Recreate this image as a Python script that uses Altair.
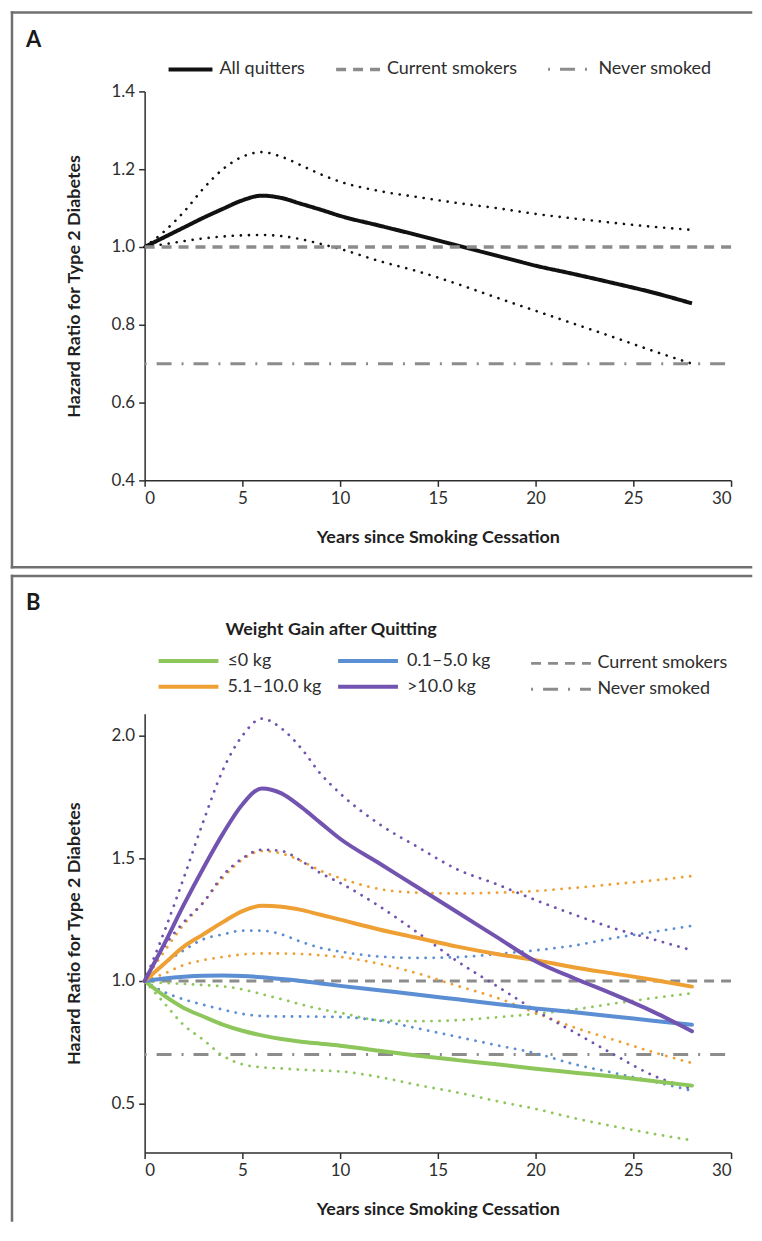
import altair as alt
import pandas as pd

FONT = "Lato"
INK = "#2e2e2e"
GRAY = "#8c8c8c"
FRAME = "#707070"

# ---------------- data ----------------
years = [0, 1, 2, 3, 4, 5, 6, 7, 8, 9, 10, 12, 14, 16, 18, 20, 22, 24, 26, 28]
ref_years = [0, 30]

# Panel A
a_all = [1.000, 1.025, 1.050, 1.075, 1.098, 1.120, 1.132, 1.126, 1.111, 1.096,
         1.080, 1.055, 1.030, 1.004, 0.978, 0.952, 0.930, 0.907, 0.883, 0.855]
a_upper = [1.000, 1.040, 1.090, 1.150, 1.200, 1.232, 1.244, 1.232, 1.210, 1.187,
           1.168, 1.144, 1.128, 1.113, 1.100, 1.085, 1.073, 1.062, 1.052, 1.044]
a_lower = [1.000, 1.007, 1.015, 1.022, 1.027, 1.030, 1.031, 1.028, 1.020, 1.008,
           0.995, 0.964, 0.937, 0.905, 0.870, 0.836, 0.802, 0.768, 0.733, 0.700]
current_smokers = [1.0, 1.0]
never_smoked = [0.7, 0.7]
series_a = ["All quitters", "Current smokers", "Never smoked"]

# Panel B
groups = ["≤0 kg", "5.1–10.0 kg", "0.1–5.0 kg", ">10.0 kg"]
group_colors = ["#8dc65b", "#efa034", "#5b8ed2", "#7254b0"]

b_le0 = [1.000, 0.940, 0.890, 0.855, 0.822, 0.797, 0.778, 0.763, 0.752, 0.744,
         0.736, 0.715, 0.695, 0.677, 0.660, 0.642, 0.626, 0.610, 0.592, 0.573]
b_le0_upper = [1.000, 0.992, 0.988, 0.983, 0.978, 0.966, 0.946, 0.926, 0.904, 0.885,
               0.870, 0.840, 0.836, 0.840, 0.852, 0.866, 0.884, 0.908, 0.930, 0.950]
b_le0_lower = [1.000, 0.910, 0.820, 0.760, 0.695, 0.660, 0.648, 0.643, 0.638, 0.634,
               0.631, 0.608, 0.575, 0.545, 0.510, 0.478, 0.440, 0.407, 0.377, 0.350]

b_0to5 = [1.000, 1.010, 1.017, 1.021, 1.022, 1.020, 1.015, 1.008, 1.000, 0.990,
          0.980, 0.962, 0.944, 0.925, 0.906, 0.888, 0.872, 0.855, 0.838, 0.821]
b_0to5_upper = [1.000, 1.070, 1.125, 1.170, 1.190, 1.205, 1.205, 1.190, 1.160, 1.135,
                1.120, 1.100, 1.094, 1.097, 1.110, 1.125, 1.145, 1.175, 1.200, 1.225]
b_0to5_lower = [1.000, 0.955, 0.925, 0.903, 0.883, 0.866, 0.857, 0.855, 0.855, 0.854,
                0.853, 0.838, 0.806, 0.772, 0.738, 0.705, 0.660, 0.625, 0.590, 0.552]

b_5to10 = [1.000, 1.070, 1.140, 1.190, 1.240, 1.285, 1.307, 1.303, 1.290, 1.270,
           1.250, 1.210, 1.175, 1.140, 1.110, 1.085, 1.055, 1.030, 1.005, 0.977]
b_5to10_upper = [1.000, 1.120, 1.230, 1.320, 1.420, 1.495, 1.530, 1.520, 1.490, 1.450,
                 1.420, 1.375, 1.360, 1.357, 1.360, 1.367, 1.380, 1.395, 1.410, 1.428]
b_5to10_lower = [1.000, 1.030, 1.065, 1.085, 1.098, 1.108, 1.112, 1.112, 1.110, 1.105,
                 1.098, 1.070, 1.030, 0.980, 0.932, 0.870, 0.810, 0.760, 0.710, 0.665]

b_gt10 = [1.000, 1.150, 1.310, 1.460, 1.600, 1.720, 1.785, 1.765, 1.710, 1.645,
          1.580, 1.480, 1.380, 1.280, 1.180, 1.080, 1.010, 0.945, 0.875, 0.795]
b_gt10_upper = [1.000, 1.200, 1.420, 1.650, 1.860, 2.000, 2.070, 2.030, 1.950, 1.845,
                1.765, 1.640, 1.545, 1.455, 1.395, 1.330, 1.270, 1.215, 1.170, 1.125]
b_gt10_lower = [1.000, 1.140, 1.240, 1.320, 1.430, 1.500, 1.535, 1.530, 1.490, 1.440,
                1.400, 1.305, 1.195, 1.080, 0.980, 0.880, 0.790, 0.700, 0.615, 0.560]

ref_series = ["Current smokers", "Never smoked"]

# ---------------- tables ----------------
rows = []
for y, v in zip(years, a_all):
    rows.append({"series": "All quitters", "year": y, "hr": v})
for y, v in zip(ref_years, current_smokers):
    rows.append({"series": "Current smokers", "year": y, "hr": v})
for y, v in zip(ref_years, never_smoked):
    rows.append({"series": "Never smoked", "year": y, "hr": v})
df_a = pd.DataFrame(rows)

rows = []
for name, vals in (("upper", a_upper), ("lower", a_lower)):
    for y, v in zip(years, vals):
        rows.append({"bound": name, "year": y, "hr": v})
df_a_ci = pd.DataFrame(rows)

order_b = ["≤0 kg", "0.1–5.0 kg", "5.1–10.0 kg", ">10.0 kg"]
est = {"≤0 kg": b_le0, "0.1–5.0 kg": b_0to5, "5.1–10.0 kg": b_5to10, ">10.0 kg": b_gt10}
ups = {"≤0 kg": b_le0_upper, "0.1–5.0 kg": b_0to5_upper, "5.1–10.0 kg": b_5to10_upper, ">10.0 kg": b_gt10_upper}
lows = {"≤0 kg": b_le0_lower, "0.1–5.0 kg": b_0to5_lower, "5.1–10.0 kg": b_5to10_lower, ">10.0 kg": b_gt10_lower}

df_b = pd.DataFrame([{"group": g, "year": y, "hr": v}
                     for g in order_b for y, v in zip(years, est[g])])
rows = []
for g in order_b:
    for name, src in (("upper", ups), ("lower", lows)):
        for y, v in zip(years, src[g]):
            rows.append({"group": g, "bound": name, "year": y, "hr": v})
df_b_ci = pd.DataFrame(rows)

rows = []
for y, v in zip(ref_years, current_smokers):
    rows.append({"ref": "Current smokers", "year": y, "hr": v})
for y, v in zip(ref_years, never_smoked):
    rows.append({"ref": "Never smoked", "year": y, "hr": v})
df_b_ref = pd.DataFrame(rows)

one = pd.DataFrame({"k": [0]})

DOT = [0.1, 8.0]
DASH = [10, 7]
DASHDOT = [2, 10, 15, 10]
LONG_STROKE = "M-2,0H2"   # legend symbol twice as long as the entry is tall


def frame(top, bottom, bottom_edge=True):
    """Panel border drawn as rules (its right edge runs off the page in the original)."""
    parts = [
        alt.Chart(one).mark_rule(color=FRAME, strokeWidth=2.5, strokeCap="square").encode(
            x=alt.value(-133), x2=alt.value(608), y=alt.value(top)),
        alt.Chart(one).mark_rule(color=FRAME, strokeWidth=2.5, strokeCap="square").encode(
            x=alt.value(-133), y=alt.value(top), y2=alt.value(bottom)),
    ]
    if bottom_edge:
        parts.append(alt.Chart(one).mark_rule(color=FRAME, strokeWidth=2.5, strokeCap="square").encode(
            x=alt.value(-133), x2=alt.value(608), y=alt.value(bottom)))
    return parts


# ---------------- panel A ----------------
xa = alt.X("year:Q", scale=alt.Scale(domain=[0, 30], nice=False),
           axis=alt.Axis(values=[0, 5, 10, 15, 20, 25, 30], title="Years since Smoking Cessation",
                         titlePadding=22))
ya = alt.Y("hr:Q", scale=alt.Scale(domain=[0.4, 1.4], nice=False, zero=False),
           axis=alt.Axis(values=[0.4, 0.6, 0.8, 1.0, 1.2, 1.4], format=".1f",
                         title="Hazard Ratio for Type 2 Diabetes", titlePadding=28))

legend_a = alt.Legend(title=None, orient="none", legendX=22, legendY=-46,
                      direction="horizontal", symbolType="stroke", symbolSize=1936,
                      labelFontSize=18, labelFont=FONT, labelColor=INK, labelOffset=5,
                      columnPadding=24)

label_a = alt.Chart(one).mark_text(text="A", align="left", baseline="alphabetic", fontSize=22,
                                   fontWeight="bold", font=FONT, color="#1a1a1a").encode(
    x=alt.value(-119), y=alt.value(-45))

lines_a = alt.Chart(df_a).mark_line(interpolate="monotone", strokeCap="butt").encode(
    x=xa, y=ya,
    color=alt.Color("series:N", scale=alt.Scale(domain=series_a, range=["#111111", GRAY, GRAY]),
                    legend=legend_a),
    strokeDash=alt.StrokeDash("series:N", scale=alt.Scale(domain=series_a, range=[[1, 0], DASH, DASHDOT]),
                              legend=legend_a),
    strokeWidth=alt.StrokeWidth("series:N", scale=alt.Scale(domain=series_a, range=[4, 3, 3]),
                                legend=legend_a),
)
ci_a = alt.Chart(df_a_ci).mark_line(interpolate="monotone", color="#111111", strokeWidth=2.6,
                                    strokeDash=DOT, strokeCap="round").encode(
    x=xa, y=ya, detail="bound:N")

panel_a = alt.layer(*frame(-79, 477), label_a, ci_a, lines_a).properties(width=588, height=390)

# ---------------- panel B ----------------
xb = alt.X("year:Q", scale=alt.Scale(domain=[0, 30], nice=False),
           axis=alt.Axis(values=[0, 5, 10, 15, 20, 25, 30], title="Years since Smoking Cessation",
                         titlePadding=22))
yb = alt.Y("hr:Q", scale=alt.Scale(domain=[0.3, 2.09], nice=False, zero=False),
           axis=alt.Axis(values=[0.5, 1.0, 1.5, 2.0], format=".1f",
                         title="Hazard Ratio for Type 2 Diabetes", titlePadding=28))

legend_b = alt.Legend(title="Weight Gain after Quitting", orient="none", legendX=27, legendY=-93,
                      columns=2, symbolType=LONG_STROKE, symbolSize=900, symbolStrokeWidth=4,
                      labelFontSize=18, labelFont=FONT, labelColor=INK, labelOffset=22,
                      titleFontSize=18, titleFont=FONT, titleFontWeight="bold", titleColor="#1f1f1f",
                      titleAnchor="middle", titlePadding=5, titleLimit=400, rowPadding=0,
                      columnPadding=8)
legend_ref = alt.Legend(title=None, orient="none", legendX=401, legendY=-67, columns=1,
                        symbolType=LONG_STROKE, symbolSize=900, symbolStrokeWidth=3,
                        symbolStrokeColor=GRAY, labelFontSize=18, labelFont=FONT,
                        labelColor=INK, labelOffset=20, rowPadding=0)

label_b = alt.Chart(one).mark_text(text="B", align="left", baseline="alphabetic", fontSize=22,
                                   fontWeight="bold", font=FONT, color="#1a1a1a").encode(
    x=alt.value(-119), y=alt.value(-104))

ref_b = alt.Chart(df_b_ref).mark_line(color=GRAY, strokeWidth=3, strokeCap="butt").encode(
    x=xb, y=yb,
    strokeDash=alt.StrokeDash("ref:N", scale=alt.Scale(domain=ref_series, range=[DASH, DASHDOT]),
                              legend=legend_ref))
ci_b = alt.Chart(df_b_ci).mark_line(interpolate="monotone", strokeWidth=2.8, strokeDash=DOT,
                                    strokeCap="round").encode(
    x=xb, y=yb, color=alt.Color("group:N", scale=alt.Scale(domain=groups, range=group_colors),
                                legend=None),
    detail="bound:N")
lines_b = alt.Chart(df_b).mark_line(interpolate="monotone", strokeWidth=4, strokeCap="round").encode(
    x=xb, y=yb, color=alt.Color("group:N", scale=alt.Scale(domain=groups, range=group_colors),
                                legend=legend_b))

panel_b = alt.layer(*frame(-138, 508, bottom_edge=False), label_b, ref_b, ci_b, lines_b).resolve_scale(
    color="independent").properties(width=588, height=440)

chart = alt.vconcat(panel_a, panel_b, spacing=3).resolve_scale(
    color="independent", strokeDash="independent", strokeWidth="independent"
).resolve_legend(
    color="independent", strokeDash="independent", strokeWidth="independent"
).properties(
    padding={"left": 1, "top": 0, "right": 0, "bottom": 0}
).configure_axis(
    labelFont=FONT, labelFontSize=17, labelColor=INK, titleFont=FONT, titleFontSize=18,
    titleFontWeight="bold", titleColor="#1f1f1f", domainColor=INK, domainWidth=1.5,
    tickColor=INK, tickWidth=1.5, tickSize=6, grid=False, labelPadding=4
).configure_view(stroke="transparent")

chart.save("out.html", embed_options={"renderer": "svg", "actions": False})
